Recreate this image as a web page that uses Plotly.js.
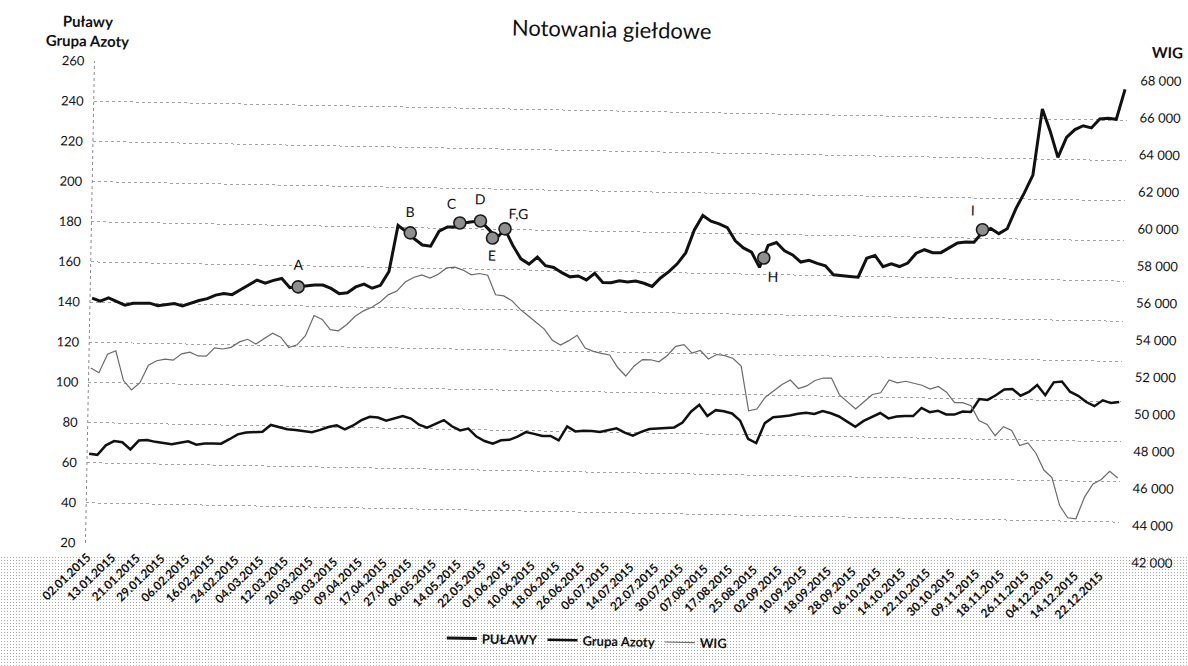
<!DOCTYPE html>
<html>
<head>
<meta charset="utf-8">
<script src="https://cdn.plot.ly/plotly-3.0.1.min.js"></script>
<style>
html,body{margin:0;padding:0;background:#fff;width:1188px;height:666px;overflow:hidden;}
#stipple{position:absolute;left:0;top:556px;width:1188px;height:110px;
  background-image:radial-gradient(circle,#a8a8a8 0.7px,rgba(255,255,255,0) 1.0px);
  background-size:3px 3px;}
#chart{position:absolute;left:0;top:0;width:1188px;height:666px;
  transform:rotate(1.07deg);transform-origin:88px 300px;}
</style>
</head>
<body>
<div id="stipple"></div>
<div id="chart"></div>
<script>
// Tick labels: one every 6 trading sessions
const tickLabels = ['02.01.2015','13.01.2015','21.01.2015','29.01.2015','06.02.2015','16.02.2015','24.02.2015',
  '04.03.2015','12.03.2015','20.03.2015','30.03.2015','09.04.2015','17.04.2015','27.04.2015','06.05.2015',
  '14.05.2015','22.05.2015','01.06.2015','10.06.2015','18.06.2015','26.06.2015','06.07.2015','14.07.2015',
  '22.07.2015','30.07.2015','07.08.2015','17.08.2015','25.08.2015','02.09.2015','10.09.2015','18.09.2015',
  '28.09.2015','06.10.2015','14.10.2015','22.10.2015','30.10.2015','09.11.2015','18.11.2015','26.11.2015',
  '04.12.2015','14.12.2015','22.12.2015'];
const sessionsPerLabel = 6;
const sampleStep = 2; // values read every 2nd trading session

const pulawy = [
  142.0,140.5,142.3,140.5,138.8,139.8,140.0,140.0,138.8,139.5,
  140.0,138.9,140.5,141.8,142.8,144.6,145.5,145.0,147.5,150.0,
  152.5,151.0,152.5,153.5,149.0,149.5,150.0,150.6,150.6,149.0,
  146.5,147.0,150.0,151.5,149.5,151.0,158.0,181.0,178.0,174.5,
  171.5,171.0,178.5,180.7,180.8,182.8,183.5,184.0,180.0,175.6,
  180.0,172.0,165.5,163.0,166.5,162.3,161.5,159.0,157.0,157.5,
  155.6,159.0,154.5,154.5,155.5,155.0,155.5,154.5,153.0,157.3,
  160.5,164.5,170.0,181.5,188.8,186.0,184.8,183.0,176.5,173.0,
  171.0,163.5,174.5,176.0,172.0,170.0,166.5,167.5,166.0,164.9,
  160.5,160.0,159.8,159.5,169.0,170.5,165.0,166.5,165.2,167.0,
  172.0,173.8,172.4,172.5,175.0,177.5,178.0,178.0,183.0,185.0,
  182.5,185.0,195.0,203.0,212.0,245.0,234.0,221.0,231.0,235.0,
  237.0,236.0,240.5,240.9,240.5,255.5];

const azoty = [
  64.5,64.0,68.8,71.0,70.5,67.0,71.5,71.8,71.0,70.5,
  70.0,70.8,71.6,70.0,70.6,70.7,70.7,73.0,75.5,76.5,
  76.9,77.0,80.5,79.5,78.5,78.2,77.8,77.3,78.5,80.0,
  80.9,79.0,81.0,83.7,85.5,85.2,83.7,85.0,86.2,85.0,
  82.0,80.6,82.5,84.5,81.5,79.5,80.5,76.6,74.5,73.2,
  75.0,75.3,77.0,79.3,78.5,77.5,77.6,75.5,82.5,80.1,
  80.5,80.5,80.0,81.0,82.0,80.0,78.5,80.5,82.0,82.3,
  82.5,83.0,85.5,91.0,94.5,89.0,92.0,91.5,90.5,87.0,
  78.0,76.0,86.0,89.0,89.5,90.0,91.0,91.5,91.0,92.5,
  91.5,90.0,87.5,85.0,88.0,90.0,92.1,89.5,90.5,90.8,
  90.9,95.0,93.0,93.8,92.0,92.0,93.6,93.5,100.0,99.6,
  102.0,105.0,105.3,102.0,104.0,107.5,102.5,109.0,109.5,104.5,
  102.5,99.5,97.5,100.5,99.2,99.8];

const wig = [
  51440,51200,52200,52400,50800,50300,50700,51650,51900,52000,
  51950,52300,52400,52200,52200,52650,52600,52700,53000,53150,
  52900,53200,53500,53300,52750,52900,53400,54500,54300,53750,
  53700,54050,54500,54800,55000,55300,55700,55900,56400,56650,
  56800,56630,56850,57200,57250,57100,56850,56930,56850,55800,
  55750,55500,55050,54700,54370,54000,53400,53150,53400,53700,
  53020,52850,52750,52670,52000,51550,52100,52450,52450,52350,
  52700,53200,53300,52850,53000,52550,52800,52750,52600,52200,
  49800,49900,50550,50900,51250,51500,51050,51200,51500,51640,
  51650,50750,50350,50000,50400,50800,50900,51600,51450,51550,
  51450,51350,51150,51300,51000,50450,50450,50300,49500,49300,
  48700,49200,49000,48200,48350,47800,46900,46500,45000,44350,
  44300,45480,46200,46450,46900,46550];

// Event markers on the PUŁAWY line
const markerLabels   = ['A','B','C','D','E','F,G','H','I'];
const markerSessions = [50, 77, 89, 94, 97, 100, 163, 216];
const markerValues   = [149.5, 177.4, 182.8, 184.0, 175.6, 180.3, 168.2, 184.3];
// label placement (px) relative to each marker
const labelDx = [0, 0, -8, 0, 0, 13, 10, -10];
const labelDy = [22, 21, 20, 22, -17, 16, -18, 20];

const sessions = pulawy.map((_, i) => i * sampleStep);
const tickVals = tickLabels.map((_, i) => i * sessionsPerLabel);

const FONT = 'Lato, "Open Sans", "DejaVu Sans", sans-serif';

const traces = [
  {x: sessions, y: pulawy, name: 'PUŁAWY', type: 'scatter', mode: 'lines',
   line: {color: '#111', width: 3}, yaxis: 'y'},
  {x: sessions, y: azoty, name: 'Grupa Azoty', type: 'scatter', mode: 'lines',
   line: {color: '#111', width: 2.5}, yaxis: 'y'},
  {x: sessions, y: wig, name: 'WIG', type: 'scatter', mode: 'lines',
   line: {color: '#6a6a6a', width: 1.2}, yaxis: 'y2'},
  {x: markerSessions, y: markerValues, name: 'events', type: 'scatter', mode: 'markers',
   showlegend: false, yaxis: 'y',
   marker: {size: 12, color: '#8f8f8f', line: {color: '#1a1a1a', width: 1.6}}}
];

const annotations = markerLabels.map((t, i) => ({
  x: markerSessions[i], y: markerValues[i], xref: 'x', yref: 'y', text: t,
  showarrow: false, xshift: labelDx[i], yshift: labelDy[i],
  font: {family: FONT, size: 14, color: '#111'}
}));
annotations.push({
  xref: 'paper', yref: 'paper', x: -0.0077, y: 1.062, xanchor: 'center', yanchor: 'middle',
  text: '<b>Puławy</b><br><b>Grupa Azoty</b>', showarrow: false, align: 'center',
  font: {family: FONT, size: 15, color: '#111'}
});
annotations.push({
  xref: 'paper', yref: 'paper', x: 1.0387, y: 1.060, xanchor: 'center', yanchor: 'middle',
  text: '<b>WIG</b>', showarrow: false,
  font: {family: FONT, size: 15, color: '#111'}
});

const layout = {
  width: 1188, height: 666,
  margin: {l: 90, r: 65, t: 61, b: 123, pad: 0},
  paper_bgcolor: 'rgba(0,0,0,0)', plot_bgcolor: 'rgba(0,0,0,0)',
  font: {family: FONT, color: '#111', size: 13},
  separators: ', ',
  title: {text: 'Notowania giełdowe', font: {family: FONT, size: 22, color: '#111'},
          xref: 'paper', x: 0.5, xanchor: 'center', yref: 'container', y: 1 - 20/666, yanchor: 'middle'},
  showlegend: true,
  legend: {orientation: 'h', x: 0.487, xanchor: 'center', y: -0.183, yanchor: 'middle',
           font: {family: FONT, size: 13, weight: 'bold', color: '#111'}, bgcolor: 'rgba(0,0,0,0)'},
  xaxis: {range: [-0.5, 250.5], tickmode: 'array', tickvals: tickVals, ticktext: tickLabels,
          tickangle: -45, tickfont: {family: FONT, size: 12, weight: 'bold', color: '#111'},
          showgrid: false, zeroline: false, showline: false, ticks: '', ticklabelstandoff: 4, fixedrange: true},
  yaxis: {range: [20, 260], tick0: 20, dtick: 20, showgrid: true, gridcolor: '#a2a2a2', gridwidth: 1,
          griddash: 'dot', zeroline: false, showline: false, ticks: '', ticklabelstandoff: 9,
          tickfont: {family: FONT, size: 13, color: '#111'}},
  yaxis2: {overlaying: 'y', side: 'right', range: [42000, 68000], tick0: 42000, dtick: 2000,
           showgrid: false, zeroline: false, showline: false, ticks: '', tickformat: ',.0f',
           ticklabelstandoff: 12, tickfont: {family: FONT, size: 13, color: '#111'}},
  shapes: [{type: 'line', xref: 'paper', yref: 'paper', x0: 0, x1: 0, y0: 0, y1: 1,
            line: {color: '#8a8a8a', width: 1, dash: 'dot'}}],
  annotations: annotations
};

Plotly.newPlot('chart', traces, layout, {displayModeBar: false, staticPlot: true});
</script>
</body>
</html>
